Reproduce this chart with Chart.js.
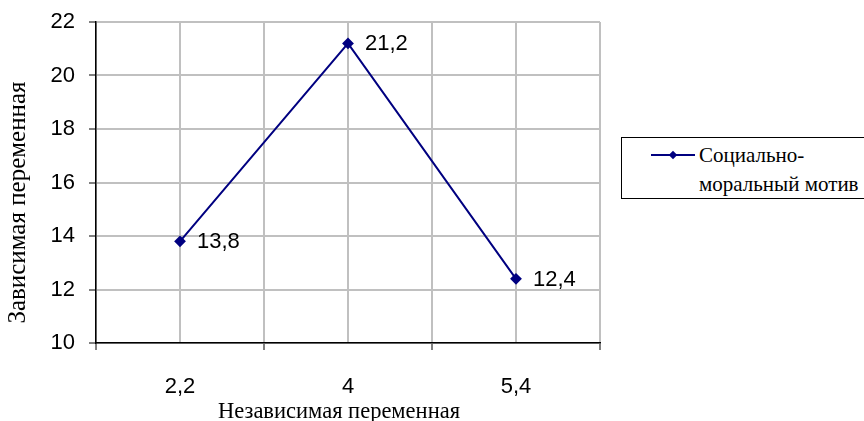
<!DOCTYPE html>
<html>
<head>
<meta charset="utf-8">
<script src="https://cdn.jsdelivr.net/npm/chart.js@4"></script>
<style>
  body { margin: 0; background: #fff; }
  #wrap { position: relative; width: 864px; height: 421px; }
  #legenda {
    position: absolute; left: 621px; top: 137px; width: 250px; height: 62px;
    border: 1px solid #000; box-sizing: border-box; background: #fff;
    font-family: "Liberation Serif", "Times New Roman", serif; font-size: 21px; color: #000;
  }
  #legenda .linha { position: absolute; left: 29px; top: 16px; width: 44px; height: 2px; background: #000080; }
  #legenda .losango { position: absolute; left: 48px; top: 14px; width: 6px; height: 6px; background: #000080; transform: rotate(45deg); }
  #legenda .texto { position: absolute; left: 77px; top: 3px; line-height: 29px; white-space: nowrap; }
</style>
</head>
<body>
<div id="wrap">
  <canvas id="grafico" width="864" height="421"></canvas>
  <div id="legenda"><div class="linha"></div><div class="losango"></div><div class="texto">Социально-<br>моральный мотив</div></div>
</div>
<script>
// Dados do gráfico
const categorias = ["2,2", "4", "5,4"];
const valores = [13.8, 21.2, 12.4];
const nomeSerie = "Социально-моральный мотив";
const tituloX = "Независимая переменная";
const tituloY = "Зависимая переменная";

const azul = "#000080";
const fonteSans = "'Liberation Sans', Arial, sans-serif";
const fonteSerif = "'Liberation Serif', 'Times New Roman', serif";

// rótulos de valor à direita de cada ponto + títulos dos eixos
const rotulosPlugin = {
  id: "rotulos",
  afterDatasetsDraw(chart) {
    const ctx = chart.ctx;
    const meta = chart.getDatasetMeta(0);
    ctx.save();
    ctx.font = "22px " + fonteSans;
    ctx.fillStyle = "#000";
    ctx.textBaseline = "middle";
    meta.data.forEach((p, i) => {
      ctx.fillText(String(valores[i]).replace(".", ","), p.x + 17, p.y + 1);
    });
    ctx.restore();
  },
  afterDraw(chart) {
    const ctx = chart.ctx;
    const area = chart.chartArea;
    ctx.save();
    ctx.fillStyle = "#000";
    ctx.textAlign = "center";
    ctx.textBaseline = "middle";
    ctx.font = "22.5px " + fonteSerif;
    ctx.fillText(tituloX, (area.left + area.right) / 2 - 9, 412);
    ctx.translate(18, (area.top + area.bottom) / 2 + 20);
    ctx.rotate(-Math.PI / 2);
    ctx.font = "25px " + fonteSerif;
    ctx.fillText(tituloY, 0, 0);
    ctx.restore();
  }
};

new Chart(document.getElementById("grafico"), {
  type: "line",
  data: {
    datasets: [{
      label: nomeSerie,
      data: valores.map((v, i) => ({ x: i, y: v })),
      borderColor: azul,
      backgroundColor: azul,
      borderWidth: 2,
      pointStyle: "rectRot",
      pointRadius: 4.5,
      pointHoverRadius: 4.5,
      tension: 0
    }]
  },
  options: {
    responsive: false,
    animation: false,
    layout: { padding: { left: 0, top: 22, right: 264, bottom: 0 } },
    plugins: { legend: { display: false }, tooltip: { enabled: false } },
    scales: {
      x: {
        type: "linear",
        min: -0.5, max: 2.5,
        afterFit: s => { s.height = 78; s.paddingLeft = 0; s.paddingRight = 0; },
        afterBuildTicks: s => {
          s.ticks = [-0.5, 0, 0.5, 1, 1.5, 2, 2.5].map(v => ({ value: v }));
        },
        ticks: {
          autoSkip: false,
          maxRotation: 0,
          padding: 24,
          color: "#000",
          font: { family: fonteSans, size: 22 },
          callback: v => Number.isInteger(v) ? categorias[v] : ""
        },
        grid: {
          color: "#c0c0c0",
          lineWidth: 2,
          tickLength: 7,
          tickColor: c => (c.tick && Number.isInteger(c.tick.value)) ? "rgba(0,0,0,0)" : "#000",
          tickWidth: 1
        },
        border: { color: "#000", width: 1.5 }
      },
      y: {
        min: 10, max: 22,
        afterFit: s => { s.width = 96; s.paddingTop = 0; s.paddingBottom = 0; },
        ticks: {
          stepSize: 2,
          padding: 14,
          color: "#000",
          font: { family: fonteSans, size: 22 }
        },
        grid: {
          color: "#c0c0c0",
          lineWidth: 2,
          tickLength: 7,
          tickColor: "#000",
          tickWidth: 1
        },
        border: { color: "#000", width: 1.5 }
      }
    }
  },
  plugins: [rotulosPlugin]
});
</script>
</body>
</html>
